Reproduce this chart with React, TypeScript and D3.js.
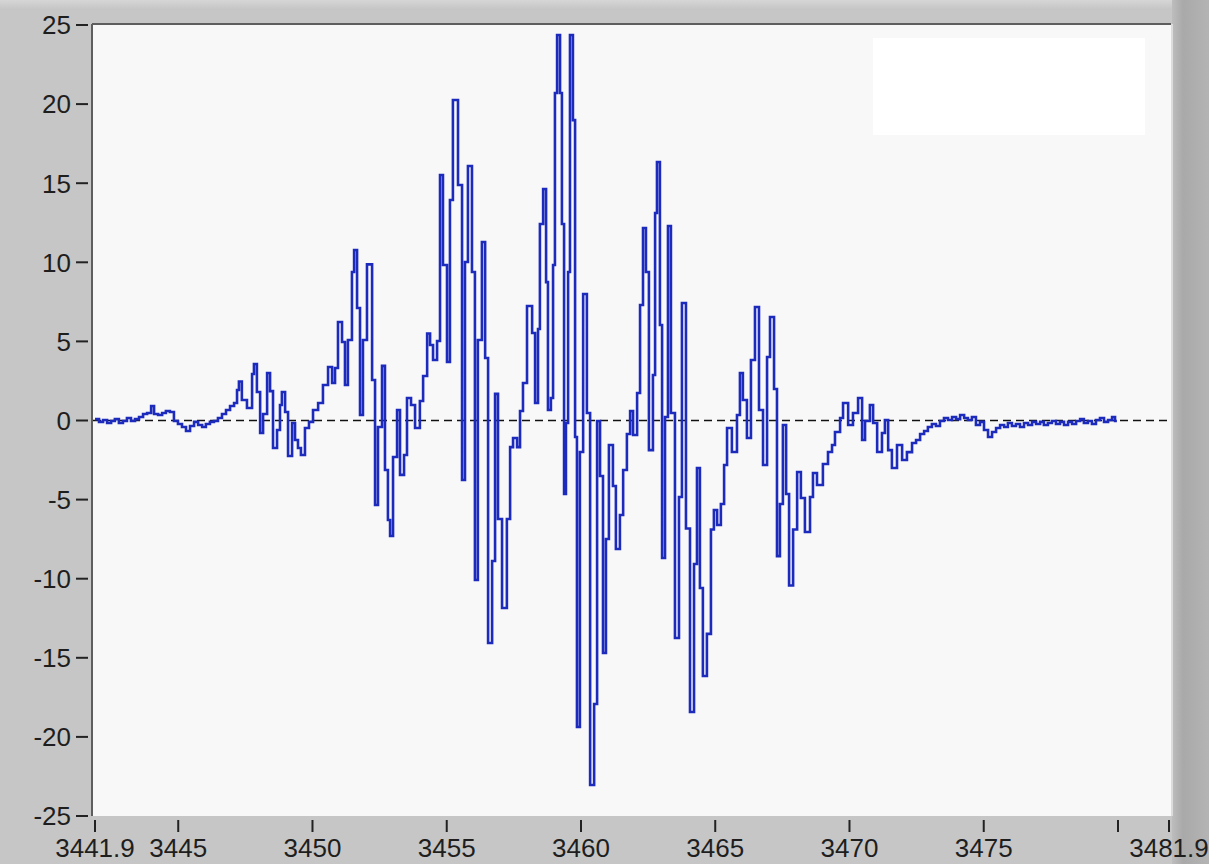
import React from "react";
import * as d3 from "d3";

const xTickValues = [3441.9, 3445, 3450, 3455, 3460, 3465, 3470, 3475, 3480, 3481.9];
const xTickLabels = ["3441.9", "3445", "3450", "3455", "3460", "3465", "3470", "3475", "", "3481.9"];
const yTickValues = [25, 20, 15, 10, 5, 0, -5, -10, -15, -20, -25];

const signalX = [
  3441.90, 3442.05, 3442.20, 3442.35, 3442.50, 3442.64, 3442.79, 3442.94, 3443.09, 3443.24,
  3443.39, 3443.54, 3443.69, 3443.84, 3443.99, 3444.10, 3444.25, 3444.40, 3444.54, 3444.69,
  3444.84, 3444.99, 3445.14, 3445.29, 3445.44, 3445.59, 3445.74, 3445.89, 3446.03, 3446.18,
  3446.33, 3446.48, 3446.63, 3446.78, 3446.93, 3447.08, 3447.19, 3447.26, 3447.37, 3447.56,
  3447.75, 3447.82, 3447.93, 3448.05, 3448.16, 3448.31, 3448.42, 3448.53, 3448.68, 3448.79,
  3448.86, 3448.98, 3449.09, 3449.24, 3449.35, 3449.46, 3449.57, 3449.72, 3449.87, 3450.02,
  3450.21, 3450.39, 3450.58, 3450.73, 3450.84, 3450.95, 3451.10, 3451.21, 3451.32, 3451.47,
  3451.55, 3451.66, 3451.77, 3451.88, 3452.03, 3452.22, 3452.33, 3452.44, 3452.59, 3452.70,
  3452.81, 3452.89, 3453.00, 3453.15, 3453.26, 3453.41, 3453.52, 3453.67, 3453.82, 3454.00,
  3454.12, 3454.27, 3454.38, 3454.49, 3454.64, 3454.75, 3454.86, 3455.01, 3455.12, 3455.23,
  3455.42, 3455.57, 3455.68, 3455.79, 3455.94, 3456.05, 3456.16, 3456.31, 3456.43, 3456.54,
  3456.69, 3456.80, 3456.91, 3457.06, 3457.24, 3457.36, 3457.47, 3457.62, 3457.73, 3457.84,
  3457.99, 3458.18, 3458.29, 3458.40, 3458.47, 3458.59, 3458.70, 3458.77, 3458.88, 3458.96,
  3459.03, 3459.11, 3459.22, 3459.29, 3459.37, 3459.44, 3459.52, 3459.59, 3459.70, 3459.78,
  3459.85, 3459.96, 3460.08, 3460.22, 3460.34, 3460.49, 3460.60, 3460.71, 3460.82, 3460.93,
  3461.04, 3461.19, 3461.30, 3461.45, 3461.57, 3461.71, 3461.83, 3461.94, 3462.09, 3462.20,
  3462.31, 3462.42, 3462.53, 3462.68, 3462.76, 3462.83, 3462.94, 3463.02, 3463.13, 3463.24,
  3463.35, 3463.50, 3463.65, 3463.76, 3463.91, 3464.06, 3464.21, 3464.32, 3464.43, 3464.54,
  3464.69, 3464.84, 3464.95, 3465.07, 3465.21, 3465.33, 3465.44, 3465.62, 3465.81, 3465.92,
  3466.03, 3466.18, 3466.33, 3466.48, 3466.63, 3466.78, 3466.93, 3467.04, 3467.19, 3467.30,
  3467.41, 3467.52, 3467.64, 3467.75, 3467.90, 3468.05, 3468.19, 3468.34, 3468.53, 3468.64,
  3468.79, 3469.01, 3469.20, 3469.35, 3469.46, 3469.65, 3469.76, 3469.95, 3470.13, 3470.32,
  3470.47, 3470.58, 3470.76, 3470.88, 3471.03, 3471.21, 3471.32, 3471.44, 3471.58, 3471.77,
  3471.96, 3472.14, 3472.33, 3472.48, 3472.63, 3472.78, 3472.92, 3473.07, 3473.22, 3473.37,
  3473.52, 3473.67, 3473.82, 3473.97, 3474.12, 3474.27, 3474.41, 3474.56, 3474.71, 3474.86,
  3475.01, 3475.16, 3475.31, 3475.46, 3475.61, 3475.76, 3475.90, 3476.05, 3476.20, 3476.35,
  3476.50, 3476.65, 3476.80, 3476.95, 3477.10, 3477.24, 3477.39, 3477.54, 3477.69, 3477.84,
  3477.99, 3478.14, 3478.29, 3478.44, 3478.59, 3478.73, 3478.88, 3479.03, 3479.18, 3479.33,
  3479.48, 3479.63, 3479.78, 3479.89, 3479.96,
];

const signalY = [
  0.09, -0.09, 0.03, -0.16, -0.03, 0.09, -0.16, -0.03, 0.16, -0.03,
  0.09, 0.22, 0.41, 0.47, 0.92, 0.41, 0.35, 0.47, 0.60, 0.54,
  -0.03, -0.22, -0.41, -0.66, -0.35, -0.09, -0.28, -0.41, -0.22, -0.09,
  -0.03, 0.16, 0.41, 0.66, 0.92, 1.11, 1.93, 2.47, 1.30, 0.79,
  2.94, 3.57, 1.80, -0.79, 0.41, 3.00, 1.86, -1.74, -0.60, 0.98,
  1.80, 0.54, -2.24, -0.16, -1.23, -1.74, -2.18, -0.47, -0.09, 0.66,
  1.11, 2.24, 3.38, 2.37, 3.32, 6.23, 4.96, 2.24, 5.09, 9.39,
  10.78, 7.11, 0.35, 5.09, 9.87, 2.56, -5.34, -0.41, 3.45, -3.13,
  -6.29, -7.30, -2.31, 0.66, -3.44, -2.18, 1.42, 0.98, -0.47, 1.23,
  2.81, 5.50, 4.77, 3.82, 5.03, 15.52, 9.83, 3.70, 13.94, 20.26,
  14.89, -3.76, 10.02, 16.09, 9.39, -10.08, 5.09, 11.28, 3.95, -14.06,
  -8.88, 1.68, -6.23, -11.85, -6.23, -1.68, -1.11, -1.68, 0.60, 2.37,
  7.24, 5.53, 1.11, 5.78, 12.42, 14.63, 8.75, 0.66, 1.42, 9.83,
  20.70, 24.37, 20.70, 12.42, -4.65, -0.16, 9.39, 24.37, 18.99, -1.04,
  -19.37, -1.99, 8.00, 0.47, -23.04, -17.92, -0.03, -3.51, -14.70, -7.49,
  -1.55, -4.14, -8.12, -5.97, -3.13, -0.85, 0.60, -0.92, 1.74, 7.30,
  12.17, 9.39, -1.87, 2.88, 13.12, 16.34, 6.04, -8.69, 0.22, 12.29,
  0.47, -13.75, -4.84, 7.43, -6.83, -18.43, -9.07, -3.00, -10.59, -16.15,
  -13.49, -6.89, -5.66, -6.61, -5.28, -2.81, -0.47, -1.99, 0.35, 3.00,
  1.30, -1.11, 3.82, 7.17, 0.66, -2.81, 4.01, 6.54, 1.99, -8.57,
  -5.28, -0.28, -4.65, -10.43, -6.89, -3.26, -4.90, -7.05, -4.84, -3.32,
  -4.08, -2.75, -1.99, -1.55, -0.73, 0.16, 1.11, -0.28, 0.47, 1.42,
  -1.23, -0.03, 0.98, -0.16, -1.99, -0.79, 0.03, -1.87, -3.00, -1.55,
  -2.50, -2.00, -1.42, -1.23, -0.85, -0.66, -0.41, -0.22, -0.35, -0.03,
  0.16, 0.03, 0.22, 0.09, 0.35, 0.16, 0.03, 0.22, -0.28, -0.09,
  -0.60, -1.04, -0.73, -0.47, -0.28, -0.41, -0.16, -0.35, -0.22, -0.41,
  -0.16, -0.28, -0.09, -0.22, -0.09, -0.28, -0.16, -0.03, -0.22, -0.09,
  -0.28, -0.09, -0.22, -0.03, 0.09, -0.16, -0.03, -0.22, 0.03, 0.16,
  -0.09, 0.03, 0.22, -0.03, -0.03,
];

const W = 1209;
const H = 864;
const plot = { left: 93, right: 1171, top: 24, bottom: 816 };
const FONT = "'Liberation Sans', Arial, sans-serif";

export default function App() {
  const x = d3.scaleLinear().domain([3441.9, 3481.9]).range([95, 1169]);
  const y = d3.scaleLinear().domain([-25, 25]).range([816, 25]);
  const pts: [number, number][] = signalX.map((v, i) => [v, signalY[i]]);
  const line = d3
    .line<[number, number]>()
    .x((d) => x(d[0]))
    .y((d) => y(d[1]))
    .curve(d3.curveStepAfter);

  return (
    <svg
      width={W}
      height={H}
      style={{ position: "absolute", left: 0, top: 0, display: "block" }}
      fontFamily={FONT}
    >
      <defs>
        <linearGradient id="rightBar" x1="0" x2="1" y1="0" y2="0">
          <stop offset="0" stopColor="#bdbdbd" />
          <stop offset="0.3" stopColor="#a9a9a9" />
          <stop offset="1" stopColor="#b4b4b4" />
        </linearGradient>
        <linearGradient id="topBar" x1="0" x2="0" y1="0" y2="1">
          <stop offset="0" stopColor="#d6d6d6" />
          <stop offset="1" stopColor="#c4c4c4" />
        </linearGradient>
        <clipPath id="plotClip">
          <rect x={plot.left} y={plot.top} width={plot.right - plot.left} height={plot.bottom - plot.top} />
        </clipPath>
      </defs>
      <rect x={0} y={0} width={W} height={H} fill="#c6c6c6" />
      <rect x={0} y={0} width={W} height={10} fill="url(#topBar)" />
      <rect x={plot.right + 1} y={0} width={W - plot.right - 1} height={H} fill="url(#rightBar)" />
      <rect
        x={plot.left}
        y={plot.top}
        width={plot.right - plot.left}
        height={plot.bottom - plot.top}
        fill="#f8f8f8"
      />
      <line x1={plot.left - 1} x2={plot.right} y1={plot.top} y2={plot.top} stroke="#5e5e5e" strokeWidth={2} />
      <line x1={plot.left - 1} x2={plot.left - 1} y1={plot.top} y2={plot.bottom} stroke="#5e5e5e" strokeWidth={2} />
      <line x1={plot.right + 1} x2={plot.right + 1} y1={plot.top} y2={plot.bottom} stroke="#dcdcdc" strokeWidth={2} />

      <rect x={873} y={38} width={272} height={97} fill="#ffffff" />

      <line
        x1={plot.left}
        x2={plot.right}
        y1={y(0)}
        y2={y(0)}
        stroke="#111"
        strokeWidth={1.6}
        strokeDasharray="8 5"
      />

      <g clipPath="url(#plotClip)">
        <path d={line(pts) || ""} fill="none" stroke="#1d2bbd" strokeWidth={2.6} strokeLinejoin="miter" />
      </g>

      {yTickValues.map((v) => (
        <g key={"y" + v}>
          <line x1={76} x2={88} y1={y(v)} y2={y(v)} stroke="#222" strokeWidth={2} />
          <text x={71} y={y(v)} dy="0.36em" textAnchor="end" fontSize={26} fill="#1e1e1e">
            {String(v)}
          </text>
        </g>
      ))}

      {xTickValues.map((v, i) => (
        <g key={"x" + v}>
          <line x1={x(v)} x2={x(v)} y1={820} y2={832} stroke="#222" strokeWidth={2} />
          {xTickLabels[i] ? (
            <text x={x(v)} y={857} textAnchor="middle" fontSize={26} fill="#1e1e1e">
              {xTickLabels[i]}
            </text>
          ) : null}
        </g>
      ))}
    </svg>
  );
}
